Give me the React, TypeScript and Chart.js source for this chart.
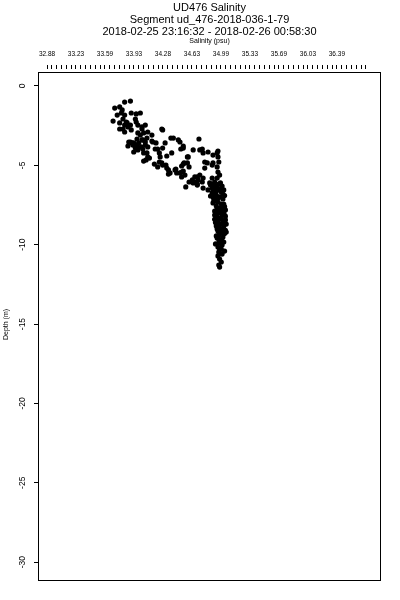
import React, { useEffect, useRef } from "react";
import { Chart, registerables } from "chart.js";

Chart.register(...registerables);

const TITLE_LINES = [
  "UD476 Salinity",
  "Segment ud_476-2018-036-1-79",
  "2018-02-25 23:16:32 - 2018-02-26 00:58:30",
];
const X_TITLE = "Salinity (psu)";
const Y_TITLE = "Depth (m)";

const X_TICK_LABELS = ["32.88", "33.23", "33.59", "33.93", "34.28", "34.63", "34.99", "35.33", "35.69", "36.03", "36.39"];
const X_TICK_START = 32.88;
const X_MAJOR_STEP = 0.351;
const X_MINOR_PER_MAJOR = 6;
const X_MINOR_COUNT = 67;
const X_MIN = 32.783;
const X_MAX = 36.912;

const Y_TICKS = [0, -5, -10, -15, -20, -25, -30];
const Y_MIN = -31.128;
const Y_MAX = 1.071;

const SALINITY = [
  33.82, 33.89, 33.70, 33.76, 33.79, 33.68, 33.73, 33.78, 33.82, 33.90,
  33.96, 34.01, 33.80, 33.84, 33.82, 33.76, 33.95, 33.96, 33.98, 33.89,
  33.85, 33.76, 33.80, 33.82, 33.86, 33.90, 34.03, 34.07, 34.03, 33.98,
  34.05, 34.10, 34.15, 34.09, 34.03, 34.07, 33.87, 33.91, 33.86, 33.93,
  33.96, 33.97, 34.01, 34.04, 33.89, 33.92, 33.97, 33.95, 33.98, 33.93,
  34.04, 34.05, 34.09, 34.07, 34.10, 34.16, 34.19, 34.15, 34.20, 34.10,
  34.12, 34.08, 34.05, 34.02, 33.99, 34.28, 34.27, 34.38, 34.41, 34.47,
  34.49, 34.53, 34.50, 34.72, 34.31, 34.28, 34.22, 34.24, 34.25, 34.33,
  34.39, 34.18, 34.24, 34.27, 34.28, 34.22, 34.32, 34.33, 34.35, 34.37,
  34.35, 34.44, 34.43, 34.45, 34.51, 34.53, 34.58, 34.59, 34.60, 34.49,
  34.51, 34.53, 34.56, 34.60, 34.65, 34.70, 34.71, 34.70, 34.73, 34.53,
  34.76, 34.77, 34.83, 34.89, 34.95, 34.94, 34.58, 34.54, 34.79, 34.82,
  34.79, 34.88, 34.89, 34.95, 34.96, 34.94, 34.51, 34.55, 34.64, 34.67,
  34.70, 34.73, 34.77, 34.76, 34.77, 34.88, 34.85, 34.89, 34.83, 34.88,
  34.65, 34.67, 34.95, 34.97, 34.94, 34.91, 34.96, 35.00, 34.90, 34.95,
  34.99, 34.88, 34.93, 34.97, 35.01, 34.90, 34.95, 34.99, 34.93, 34.97,
  35.01, 35.04, 34.91, 34.96, 35.00, 34.94, 34.99, 35.04, 34.95, 35.00,
  34.93, 34.97, 35.02, 34.95, 35.00, 35.05, 34.96, 35.01, 34.94, 34.99,
  34.96, 35.00, 34.95, 34.99, 34.96, 35.00, 34.95, 34.97, 34.99, 34.96,
  34.97, 35.02, 34.89, 35.02, 34.94, 34.89, 35.02, 35.05, 34.91, 35.02,
  34.90, 34.97, 34.93, 35.01, 34.95, 34.89, 34.94, 34.99, 34.96, 34.93,
  34.97, 34.99, 34.96, 35.00, 34.97, 34.86, 35.02, 34.86, 35.01, 34.94,
  34.92, 35.03, 34.91, 35.03, 34.92, 35.04, 34.92, 35.03, 34.93, 35.02,
  34.92, 35.03, 34.94, 34.98, 34.91, 35.04,
];

const DEPTH = [
  -1.01, -0.95, -1.39, -1.32, -1.51, -2.21, -1.83, -1.70, -1.83, -1.70,
  -1.76, -1.70, -2.08, -2.27, -2.46, -2.33, -2.08, -2.27, -2.46, -2.46,
  -2.33, -2.71, -2.71, -2.90, -2.58, -2.77, -2.71, -2.46, -2.58, -2.96,
  -2.96, -2.90, -3.09, -3.28, -3.40, -3.53, -3.53, -3.59, -3.78, -3.59,
  -3.72, -3.34, -3.09, -3.40, -3.53, -3.72, -3.84, -3.91, -4.03, -4.16,
  -3.97, -4.22, -4.22, -3.72, -3.84, -3.53, -3.97, -3.47, -3.59, -4.47,
  -4.54, -4.66, -4.73, -3.84, -3.59, -2.77, -2.71, -3.28, -3.28, -3.40,
  -3.53, -3.91, -3.97, -3.34, -3.59, -3.91, -3.97, -4.22, -4.47, -4.41,
  -4.22, -4.92, -4.79, -4.85, -4.98, -5.10, -4.98, -5.17, -5.29, -5.48,
  -5.55, -5.23, -5.29, -5.48, -5.04, -4.92, -4.85, -4.47, -5.10, -5.48,
  -5.73, -5.36, -6.36, -6.05, -6.11, -5.73, -5.92, -6.18, -4.03, -3.78,
  -3.97, -4.22, -4.16, -4.35, -4.10, -4.22, -4.47, -4.85, -4.79, -4.85,
  -5.17, -4.98, -4.85, -4.47, -4.79, -5.10, -5.42, -5.61, -5.92, -6.05,
  -6.24, -5.61, -5.80, -6.05, -6.43, -5.80, -6.11, -6.24, -6.55, -6.43,
  -4.03, -5.73, -5.42, -5.61, -5.80, -6.05, -6.18, -6.30, -6.43, -6.55,
  -6.68, -6.74, -6.87, -6.99, -7.12, -7.18, -7.31, -7.44, -7.56, -7.69,
  -7.69, -7.81, -7.88, -8.00, -8.13, -8.26, -8.38, -8.44, -8.57, -8.70,
  -8.82, -8.95, -9.01, -9.14, -9.26, -9.20, -9.39, -9.52, -9.58, -9.70,
  -9.89, -10.02, -10.15, -10.27, -10.46, -10.59, -10.71, -10.90, -11.09, -11.28,
  -11.41, -8.82, -6.99, -7.44, -6.30, -6.68, -8.00, -8.70, -8.13, -9.83,
  -6.18, -6.49, -6.62, -6.81, -7.06, -7.37, -7.75, -7.88, -8.32, -8.51,
  -8.70, -9.07, -9.64, -9.77, -10.33, -6.93, -6.55, -6.24, -8.51, -9.01,
  -6.40, -6.90, -7.25, -7.60, -7.95, -8.20, -8.60, -9.30, -9.45, -8.05,
  -9.95, -10.40, -7.00, -6.10, -8.40, -9.10,
];

const FONT = "'Liberation Sans', Arial, Helvetica, sans-serif";
const BOX_GAP = 3;
const TITLE_SIZE = 11;
const TITLE_LH = 1.1;
const TITLE_PAD_TOP = 1.5;
const SUB_SIZE = 7;
const SUB_LH = 0.9;
const AREA_TOP = 69;

const boxPlugin = {
  id: "plotBox",
  afterDraw(chart: any) {
    const { ctx, chartArea: a } = chart;
    ctx.save();
    ctx.strokeStyle = "#000";
    ctx.lineWidth = 1;
    const l = Math.round(a.left) - 0.5;
    const t = Math.round(a.top) + BOX_GAP + 0.5;
    const r = Math.round(a.right) + 0.5;
    const b = Math.round(a.bottom) + 0.5;
    ctx.strokeRect(l, t, r - l, b - t);
    ctx.restore();
  },
};

export default function App() {
  const ref = useRef<HTMLCanvasElement | null>(null);

  useEffect(() => {
    document.body.style.margin = "0";
    const canvas = ref.current;
    if (!canvas) return;
    const points = SALINITY.map((s, i) => ({ x: s, y: DEPTH[i] }));
    const headerHeight = TITLE_PAD_TOP + TITLE_LINES.length * TITLE_SIZE * TITLE_LH + SUB_SIZE * SUB_LH;
    const chart = new Chart(canvas, {
      type: "scatter",
      data: {
        datasets: [
          {
            data: points,
            backgroundColor: "#000",
            borderColor: "#000",
            borderWidth: 0,
            pointRadius: 2.6,
            pointHoverRadius: 2.6,
          },
        ],
      },
      options: {
        responsive: false,
        animation: false,
        devicePixelRatio: 1,
        layout: { padding: { top: 0, left: 0, right: 20, bottom: 20 } },
        plugins: {
          legend: { display: false },
          tooltip: { enabled: false },
          title: {
            display: true,
            fullSize: false,
            text: TITLE_LINES,
            color: "#000",
            font: { family: FONT, size: TITLE_SIZE, weight: "normal", lineHeight: TITLE_LH },
            padding: { top: TITLE_PAD_TOP, bottom: 0 },
          },
          subtitle: {
            display: true,
            fullSize: false,
            text: X_TITLE,
            color: "#000",
            font: { family: FONT, size: SUB_SIZE, weight: "normal", lineHeight: SUB_LH },
            padding: { top: 0, bottom: 0 },
          },
        },
        scales: {
          x: {
            type: "linear",
            position: "top",
            min: X_MIN,
            max: X_MAX,
            afterBuildTicks: (scale: any) => {
              const ticks = [];
              for (let i = 0; i < X_MINOR_COUNT; i++) {
                ticks.push({ value: X_TICK_START + (i * X_MAJOR_STEP) / X_MINOR_PER_MAJOR });
              }
              scale.ticks = ticks;
            },
            afterFit: (scale: any) => {
              scale.height = AREA_TOP - headerHeight;
            },
            border: { display: false },
            grid: {
              display: true,
              drawOnChartArea: false,
              drawTicks: true,
              tickLength: 4,
              color: "#000",
              lineWidth: 1,
            },
            ticks: {
              autoSkip: false,
              maxRotation: 0,
              minRotation: 0,
              padding: 7,
              color: "#000",
              font: { family: FONT, size: 6.5 },
              callback: (_v: any, index: number) => {
                if (index % X_MINOR_PER_MAJOR !== 0) return "";
                const k = index / X_MINOR_PER_MAJOR;
                return k < X_TICK_LABELS.length ? X_TICK_LABELS[k] : "";
              },
            },
          },
          y: {
            type: "linear",
            position: "left",
            min: Y_MIN,
            max: Y_MAX,
            afterBuildTicks: (scale: any) => {
              scale.ticks = Y_TICKS.map((v) => ({ value: v }));
            },
            afterFit: (scale: any) => {
              scale.width = 39;
            },
            border: { display: false },
            grid: {
              display: true,
              drawOnChartArea: false,
              drawTicks: true,
              tickLength: 5,
              color: "#000",
              lineWidth: 1,
            },
            title: {
              display: true,
              text: Y_TITLE,
              color: "#000",
              font: { family: FONT, size: 7 },
              padding: { top: 2, bottom: 0 },
            },
            ticks: {
              autoSkip: false,
              minRotation: 90,
              maxRotation: 90,
              crossAlign: "center",
              padding: 5,
              color: "#000",
              font: { family: FONT, size: 8.5 },
              callback: (v: any) => (v < 0 ? "-" + String(Math.abs(v)) : String(v)),
            },
          },
        },
      },
      plugins: [boxPlugin],
    } as any);
    return () => chart.destroy();
  }, []);

  return <canvas ref={ref} width={400} height={600} style={{ display: "block" }} />;
}
